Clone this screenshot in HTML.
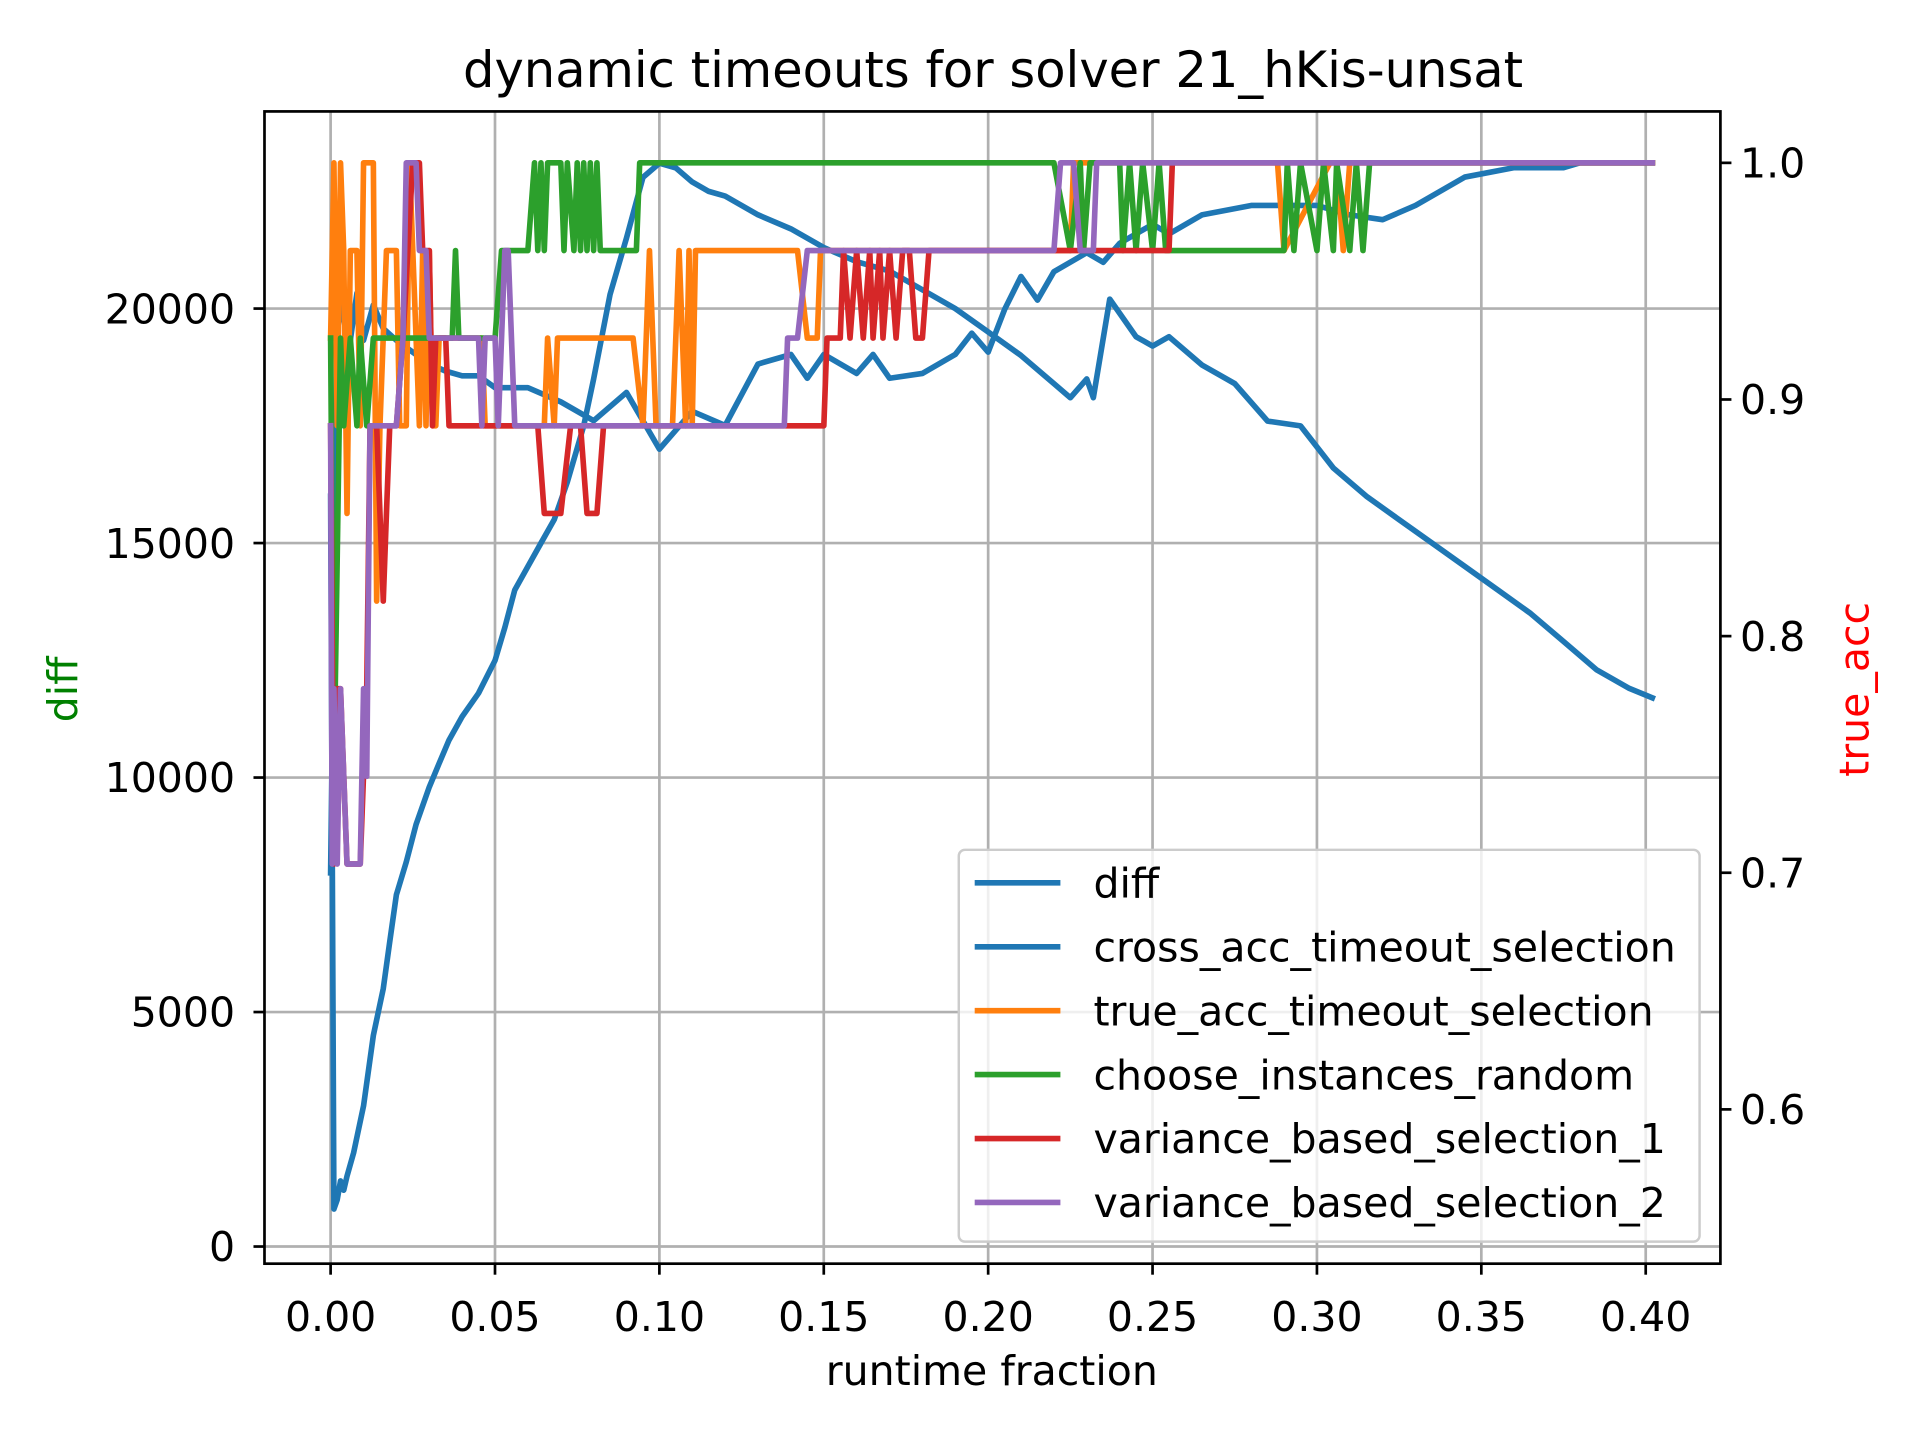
<!DOCTYPE html>
<html><head><meta charset="utf-8"><style>
html,body{margin:0;padding:0;background:#fff;}
svg{display:block;font-family:"DejaVu Sans","Liberation Sans",sans-serif;}
</style></head><body>
<svg id="chart" width="1920" height="1440" viewBox="0 0 1568 1176" xmlns="http://www.w3.org/2000/svg">
<rect width="1568" height="1176" fill="#fff"/>
<g id="grid"></g><g id="series"></g><g id="axes"></g><g id="legend"></g>
</svg>
<script>
const xTicks=[0,0.05,0.10,0.15,0.20,0.25,0.30,0.35,0.40];
const xTickLabels=["0.00","0.05","0.10","0.15","0.20","0.25","0.30","0.35","0.40"];
const yTicks=[0,5000,10000,15000,20000];
const yTickLabels=["0","5000","10000","15000","20000"];
const y2Ticks=[0.6,0.7,0.8,0.9,1.0];
const y2TickLabels=["0.6","0.7","0.8","0.9","1.0"];
const seriesNames=["diff","cross_acc_timeout_selection","true_acc_timeout_selection","choose_instances_random","variance_based_selection_1","variance_based_selection_2"];
const seriesColors=["#1f77b4","#1f77b4","#ff7f0e","#2ca02c","#d62728","#9467bd"];
// diff (left axis)
const diffX=[0,0.001,0.002,0.003,0.004,0.005,0.007,0.01,0.013,0.016,0.018,0.02,0.023,0.026,0.03,0.033,0.036,0.04,0.045,0.05,0.053,0.056,0.06,0.064,0.068,0.072,0.077,0.08,0.085,0.09,0.095,0.1,0.105,0.11,0.115,0.12,0.13,0.14,0.15,0.16,0.17,0.18,0.19,0.2,0.21,0.22,0.225,0.23,0.232,0.237,0.245,0.25,0.255,0.265,0.275,0.285,0.295,0.305,0.315,0.325,0.335,0.345,0.355,0.365,0.375,0.385,0.395,0.402];
const diffY=[16000,800,1000,1400,1200,1500,2000,3000,4500,5500,6500,7500,8200,9000,9800,10300,10800,11300,11800,12500,13200,14000,14500,15000,15500,16300,17500,18500,20300,21500,22800,23100,23000,22700,22500,22400,22000,21700,21300,21000,20800,20400,20000,19500,19000,18400,18100,18500,18100,20200,19400,19200,19400,18800,18400,17600,17500,16600,16000,15500,15000,14500,14000,13500,12900,12300,11900,11700];
// cross_acc_timeout_selection (right axis)
const crossX=[0,0.002,0.004,0.006,0.008,0.01,0.013,0.016,0.02,0.025,0.03,0.035,0.04,0.045,0.05,0.06,0.07,0.08,0.09,0.1,0.11,0.12,0.13,0.14,0.145,0.15,0.16,0.165,0.17,0.18,0.19,0.195,0.2,0.205,0.21,0.215,0.22,0.23,0.235,0.24,0.25,0.255,0.265,0.28,0.3,0.31,0.32,0.33,0.345,0.36,0.375,0.38,0.402];
const crossY=[0.70,0.93,0.94,0.925,0.945,0.925,0.94,0.93,0.925,0.92,0.915,0.912,0.91,0.91,0.905,0.905,0.899,0.891,0.903,0.879,0.895,0.889,0.915,0.919,0.909,0.919,0.911,0.919,0.909,0.911,0.919,0.928,0.92,0.938,0.952,0.942,0.954,0.962,0.958,0.966,0.974,0.970,0.978,0.982,0.982,0.978,0.976,0.982,0.994,0.998,0.998,1.0,1.0];
// step series in units of 1/27 (right axis)
const trueX=[0,0.001,0.002,0.003,0.004,0.005,0.006,0.008,0.009,0.01,0.013,0.014,0.015,0.017,0.02,0.021,0.023,0.024,0.027,0.028,0.029,0.03,0.031,0.032,0.033,0.035,0.046,0.047,0.065,0.066,0.068,0.069,0.071,0.092,0.095,0.097,0.099,0.104,0.106,0.107,0.108,0.109,0.11,0.111,0.142,0.145,0.148,0.149,0.225,0.226,0.288,0.29,0.304,0.306,0.308,0.31,0.402];
const trueY=[25,27,24,27,26,23,26,26,24,27,27,22,24,26,26,24,24,27,24,26,24,26,24,24,25,25,25,24,24,25,24,25,25,25,24,26,24,24,26,25,24,26,24,26,26,25,25,26,26,27,27,26,27,27,26,27,27];
const greenX=[0,0.001,0.003,0.004,0.006,0.008,0.009,0.011,0.013,0.015,0.037,0.038,0.039,0.05,0.052,0.06,0.062,0.063,0.064,0.065,0.066,0.07,0.071,0.072,0.074,0.075,0.076,0.077,0.078,0.079,0.08,0.081,0.082,0.093,0.094,0.22,0.225,0.228,0.229,0.231,0.24,0.241,0.243,0.245,0.247,0.25,0.252,0.254,0.256,0.29,0.291,0.293,0.295,0.3,0.302,0.305,0.306,0.31,0.312,0.314,0.316,0.402];
const greenY=[25,20,25,24,25,24,25,24,25,25,25,26,25,25,26,26,27,26,27,26,27,27,26,27,26,27,26,27,26,27,26,27,26,26,27,27,26,27,26,27,27,26,27,26,27,26,27,26,26,26,27,26,27,26,27,26,27,26,27,26,27,27];
const redX=[0,0.001,0.002,0.003,0.005,0.007,0.009,0.011,0.012,0.014,0.015,0.016,0.017,0.018,0.02,0.022,0.025,0.027,0.028,0.03,0.031,0.032,0.035,0.036,0.063,0.065,0.07,0.073,0.076,0.078,0.081,0.083,0.15,0.151,0.155,0.156,0.158,0.16,0.162,0.164,0.165,0.167,0.168,0.17,0.172,0.174,0.176,0.178,0.18,0.182,0.255,0.256,0.402];
const redY=[24,19,21,21,19,19,19,21,24,24,23,22,23,24,24,25,27,27,26,26,24,25,25,24,24,23,23,24,24,23,23,24,24,25,25,26,25,26,25,26,25,26,25,26,25,26,26,25,25,26,26,27,27];
const purpX=[0,0.0005,0.001,0.002,0.003,0.005,0.007,0.009,0.01,0.011,0.012,0.02,0.022,0.023,0.026,0.027,0.029,0.03,0.033,0.035,0.045,0.046,0.047,0.05,0.051,0.053,0.054,0.056,0.138,0.139,0.142,0.145,0.22,0.222,0.226,0.228,0.232,0.233,0.402];
const purpY=[24,19,21,19,21,19,19,19,21,20,24,24,25,27,27,26,26,25,25,25,25,24,25,25,24,26,26,24,24,25,25,26,26,27,27,26,26,27,27];

const NS="http://www.w3.org/2000/svg";
const L=216,R=1405,T=91,B=1032;
function sx(v){return 270+(v-0)*(1344-270)/0.40;}
function sy(v){return 1018-v*(1018-252)/20000;}
function sy2(v){return 133+(1.0-v)*(906-133)/0.4;}
function mk(tag,attrs,parent){const e=document.createElementNS(NS,tag);for(const k in attrs)e.setAttribute(k,attrs[k]);parent.appendChild(e);return e;}
const grid=document.getElementById('grid'),axes=document.getElementById('axes'),ser=document.getElementById('series'),leg=document.getElementById('legend');
const FS=33.5;
xTicks.forEach((t,i)=>{
  const g=mk('line',{x1:sx(t),x2:sx(t),y1:T,y2:B,stroke:'#b0b0b0','stroke-width':2.2},grid);
  
  
  const tk=mk('line',{x1:sx(t),x2:sx(t),y1:B,y2:B+9,stroke:'#000','stroke-width':2.2},axes);
  
  
  const tx=mk('text',{x:sx(t),y:B+55,'font-size':FS,'text-anchor':'middle',fill:'#000'},axes);
  tx.textContent=xTickLabels[i];
  
  
});
yTicks.forEach((t,i)=>{
  const g=mk('line',{x1:L,x2:R,y1:sy(t),y2:sy(t),stroke:'#b0b0b0','stroke-width':2.2},grid);
  
  
  const tk=mk('line',{x1:L-9,x2:L,y1:sy(t),y2:sy(t),stroke:'#000','stroke-width':2.2},axes);
  
  
  const tx=mk('text',{x:L-24,y:sy(t)+12,'font-size':FS,'text-anchor':'end',fill:'#000'},axes);
  tx.textContent=yTickLabels[i];
  
  
});
y2Ticks.forEach((t,i)=>{
  const tk=mk('line',{x1:R,x2:R+9,y1:sy2(t),y2:sy2(t),stroke:'#000','stroke-width':2.2},axes);
  
  
  const tx=mk('text',{x:R+16,y:sy2(t)+12,'font-size':FS,'text-anchor':'start',fill:'#000'},axes);
  tx.textContent=y2TickLabels[i];
  
  
});
function line(xs,ys,fy,color,name){
  const d=xs.map((x,i)=>(i?'L':'M')+sx(x).toFixed(1)+','+fy(ys[i]).toFixed(1)).join('');
  const p=mk('path',{d:d,fill:'none',stroke:color,'stroke-width':4.6,'stroke-linejoin':'round','stroke-linecap':'square'},ser);
  
  
}
const k27=v=>sy2(v/27);
line(diffX,diffY,sy,seriesColors[0],'diff-line');
line(crossX,crossY,sy2,seriesColors[1],'cross-acc-line');
line(trueX,trueY,k27,seriesColors[2],'true-acc-line');
line(greenX,greenY,k27,seriesColors[3],'random-line');
line(redX,redY,k27,seriesColors[4],'variance-1-line');
line(purpX,purpY,k27,seriesColors[5],'variance-2-line');
const fr=mk('rect',{x:L,y:T,width:R-L,height:B-T,fill:'none',stroke:'#000','stroke-width':2.2},axes);


// legend
const lb=mk('rect',{x:783,y:694,width:605,height:320,rx:5,fill:'#fff','fill-opacity':0.8,stroke:'#ccc','stroke-width':2},leg);


seriesNames.forEach((n,i)=>{
  const y=721+i*52.2;
  const ln=mk('line',{x1:796,x2:866,y1:y,y2:y,stroke:seriesColors[i],'stroke-width':4.6},leg);
  
  
  const tx=mk('text',{x:893,y:y+12,'font-size':FS,fill:'#000'},leg);
  tx.textContent=n;
  
  
});
</script>
<script>
const s=document.getElementById('chart');
function addT(txt,attrs,name){const e=document.createElementNS("http://www.w3.org/2000/svg",'text');for(const k in attrs)e.setAttribute(k,attrs[k]);e.textContent=txt;


s.appendChild(e);}
addT('dynamic timeouts for solver 21_hKis-unsat',{x:811,y:71,'font-size':40.5,'text-anchor':'middle',fill:'#000'},'chart-title');
addT('runtime fraction',{x:810,y:1131,'font-size':FS,'text-anchor':'middle',fill:'#000'},'x-axis-title');
addT('diff',{x:0,y:0,'font-size':FS,'text-anchor':'middle',fill:'#008000',transform:'translate(63,563) rotate(-90)'},'y-axis-title');
addT('true_acc',{x:0,y:0,'font-size':FS,'text-anchor':'middle',fill:'#ff0000',transform:'translate(1526,563) rotate(-90)'},'y2-axis-title');
</script>
</body></html>
